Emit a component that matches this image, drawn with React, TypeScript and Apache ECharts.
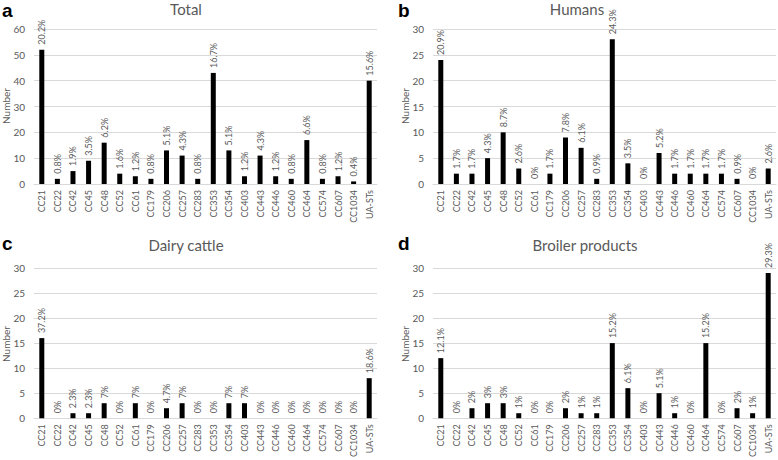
import React, { useEffect, useRef } from "react";
import * as echarts from "echarts";

const categories = ["CC21","CC22","CC42","CC45","CC48","CC52","CC61","CC179","CC206","CC257","CC283","CC353","CC354","CC403","CC443","CC446","CC460","CC464","CC574","CC607","CC1034","UA-STs"];

const totalValues = [52,2,5,9,16,4,3,2,13,11,2,43,13,3,11,3,2,17,2,3,1,40];
const totalPct = ["20.2%","0.8%","1.9%","3.5%","6.2%","1.6%","1.2%","0.8%","5.1%","4.3%","0.8%","16.7%","5.1%","1.2%","4.3%","1.2%","0.8%","6.6%","0.8%","1.2%","0.4%","15.6%"];

const humanValues = [24,2,2,5,10,3,0,2,9,7,1,28,4,0,6,2,2,2,2,1,0,3];
const humanPct = ["20.9%","1.7%","1.7%","4.3%","8.7%","2.6%","0%","1.7%","7.8%","6.1%","0.9%","24.3%","3.5%","0%","5.2%","1.7%","1.7%","1.7%","1.7%","0.9%","0%","2.6%"];

const dairyValues = [16,0,1,1,3,0,3,0,2,3,0,0,3,3,0,0,0,0,0,0,0,8];
const dairyPct = ["37.2%","0%","2.3%","2.3%","7%","0%","7%","0%","4.7%","7%","0%","0%","7%","7%","0%","0%","0%","0%","0%","0%","0%","18.6%"];

const broilerValues = [12,0,2,3,3,1,0,0,2,1,1,15,6,0,5,1,0,15,0,2,1,29];
const broilerPct = ["12.1%","0%","2%","3%","3%","1%","0%","0%","2%","1%","1%","15.2%","6.1%","0%","5.1%","1%","0%","15.2%","0%","2%","1%","29.3%"];

const panelTitles = ["Total", "Humans", "Dairy cattle", "Broiler products"];
const panelLetters = ["a", "b", "c", "d"];
const yMax = [60, 30, 30, 30];
const yStep = [10, 5, 5, 5];

const FONT = "Lato, 'Open Sans', sans-serif";
const GREY = "#595959";

export default function App() {
  const ref = useRef<HTMLDivElement>(null);
  useEffect(() => {
    if (!ref.current) return;
    const chart = echarts.init(ref.current, null, { renderer: "svg" });
    const valuesList = [totalValues, humanValues, dairyValues, broilerValues];
    const pctList = [totalPct, humanPct, dairyPct, broilerPct];
    const grids = [
      { left: 34, top: 29, width: 343, height: 155 },
      { left: 433, top: 29, width: 343, height: 155 },
      { left: 34, top: 268, width: 343, height: 153 },
      { left: 433, top: 268, width: 343, height: 154 },
    ];
    const titlePos = [
      [186, 9], [577, 9], [186, 245], [585, 245],
    ];
    const letterPos = [
      [2, 10], [398, 10], [2, 243], [398, 243],
    ];
    const numberPos = [
      [6, 106], [405, 106], [6, 344], [405, 344],
    ];
    const graphics: any[] = [];
    for (let i = 0; i < 4; i++) {
      graphics.push({
        type: "text", x: titlePos[i][0], y: titlePos[i][1],
        style: { text: panelTitles[i], fontSize: 15, fill: GREY, fontFamily: FONT, textAlign: "center", textVerticalAlign: "middle" },
      });
      graphics.push({
        type: "text", x: letterPos[i][0], y: letterPos[i][1],
        style: { text: panelLetters[i], fontSize: 19, fontWeight: "bold", fill: "#000", fontFamily: "'Liberation Sans', Arial, sans-serif", textAlign: "left", textVerticalAlign: "middle" },
      });
      graphics.push({
        type: "text", x: numberPos[i][0], y: numberPos[i][1], rotation: Math.PI / 2,
        style: { text: "Number", fontSize: 10, fill: GREY, fontFamily: FONT, textAlign: "center", textVerticalAlign: "middle" },
      });
    }
    chart.setOption({
      animation: false,
      backgroundColor: "#fff",
      grid: grids,
      xAxis: grids.map((_, i) => ({
        type: "category",
        gridIndex: i,
        data: categories,
        axisLine: { show: true, lineStyle: { color: "#d9d9d9", width: 1 } },
        axisTick: { show: false },
        axisLabel: { interval: 0, rotate: 90, fontSize: 9, color: GREY, fontFamily: FONT, margin: 6 },
      })),
      yAxis: grids.map((_, i) => ({
        type: "value",
        gridIndex: i,
        min: 0,
        max: yMax[i],
        interval: yStep[i],
        axisLine: { show: false },
        axisTick: { show: false },
        splitLine: { lineStyle: { color: "#d9d9d9", width: 1 } },
        axisLabel: { fontSize: 10, color: GREY, fontFamily: FONT, margin: 9 },
      })),
      series: valuesList.map((vals, i) => ({
        type: "bar",
        xAxisIndex: i,
        yAxisIndex: i,
        data: vals,
        barWidth: 5,
        itemStyle: { color: "#000" },
        label: {
          show: true,
          position: "top",
          rotate: 90,
          align: "left",
          verticalAlign: "middle",
          distance: 5,
          fontSize: 9,
          color: GREY,
          fontFamily: FONT,
          formatter: (p: any) => pctList[i][p.dataIndex],
        },
      })),
      graphic: graphics,
    });
    return () => chart.dispose();
  }, []);
  return <div ref={ref} style={{ position: "absolute", left: 0, top: 0, width: 778, height: 460 }} />;
}
